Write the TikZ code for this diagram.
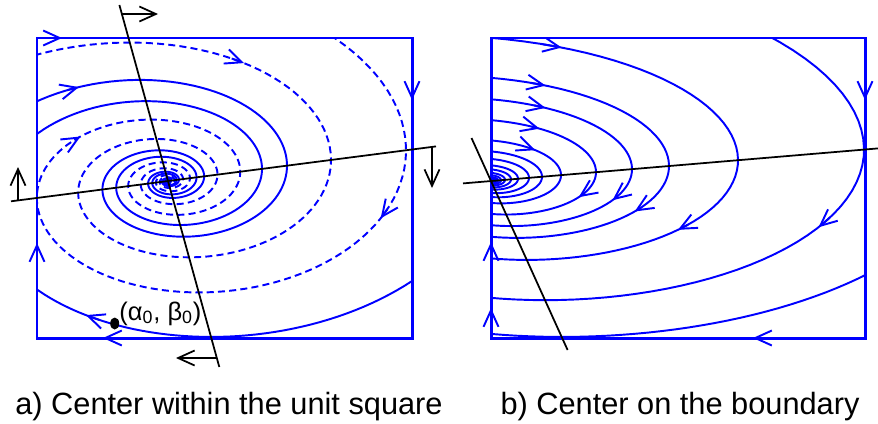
\documentclass[tikz,border=0pt]{standalone}
\usepackage{fontspec}
\setmainfont{Liberation Sans}
\usetikzlibrary{arrows.meta}

\definecolor{trajblue}{RGB}{0,0,255}

\tikzset{
  traj/.style={trajblue, line width=1.1pt},
  dtraj/.style={traj, dash pattern=on 4pt off 2.4pt},
  edge/.style={trajblue, line width=1.7pt},
  ncline/.style={black, line width=1pt},
  vtip/.style={-{Straight Barb[length=3.3mm,width=3mm]}, solid},
}

% spiral through (R, -slope*R) at angle 0
\newcommand{\spiral}[4]{%
  \draw[#1] plot[domain=#3:#4, variable=\ang]
    ({#2*exp(-\kap*(\ang))*(cos(\ang)+\kxx*sin(\ang))},
     {#2*exp(-\kap*(\ang))*(\kyy*sin(\ang)-\slp*cos(\ang))});}
\newcommand{\spiraltip}[2]{%
  \draw[traj, vtip] plot[domain=#2-4:#2, samples=2, variable=\ang]
    ({#1*exp(-\kap*(\ang))*(cos(\ang)+\kxx*sin(\ang))},
     {#1*exp(-\kap*(\ang))*(\kyy*sin(\ang)-\slp*cos(\ang))});}

\begin{document}
\begin{tikzpicture}[x=0.02cm, y=-0.02cm]
    \useasboundingbox (0,0) rectangle (878,423);
    % Left panel: trajectories
    \begin{scope}
        \clip (37,38) rectangle (412,338);
        \begin{scope}[shift={(168,181)}]
            \def\kap{0.0033036}\def\kxx{0.18928}\def\kyy{0.6306}\def\slp{0.129}
            \spiral{dtraj, samples=900}{238}{-100}{2500}
            \spiral{dtraj, samples=900}{163}{-180}{2500}
            \spiral{traj, samples=900}{119}{-180}{2500}
            \spiral{traj, samples=900}{94}{-180}{2500}
            \spiral{traj, samples=80}{333}{20}{180}
            \spiraltip{163}{-57}
            \spiraltip{119}{-110}
            \spiraltip{238}{230}
            \spiraltip{238}{27}
            \spiraltip{333}{122}
        \end{scope}
    \end{scope}
    % Left panel: unit square
    \draw[edge] (37,38) rectangle (412,338);
    \draw[traj, vtip] (48,38) -- (62,38);
    \draw[traj, vtip] (412,86) -- (412,100);
    \draw[traj, vtip] (37,257) -- (37,243);
    \draw[traj, vtip] (117,338) -- (103,338);
    % Left panel: nullclines
    \coordinate (sa) at (119.4,5);
    \coordinate (sb) at (219.3,367);
    \coordinate (ha) at (11,201.3);
    \coordinate (hb) at (436,146.4);
    \draw[ncline] (sa) -- (sb);
    \draw[ncline] (ha) -- (hb);
    \draw[ncline, vtip] (122,14) -- (158,14);
    \draw[ncline, vtip] (217,358) -- (176,358);
    \draw[ncline, vtip] (18,200) -- (18,167);
    \draw[ncline, vtip] (432,147) -- (432,188);
    % Initial point
    \fill (114.7,323.5) ellipse [x radius=0.09cm, y radius=0.12cm];
    \node[anchor=base west, inner sep=0pt, font=\fontsize{14.5}{16}\selectfont] (lbl) at (119,320)
        {(α\textsubscript{0}, β\textsubscript{0})};

    % Right panel: trajectories
    \begin{scope}
        \clip (491,38) rectangle (865,338);
        \begin{scope}[shift={(491,181)}]
            \def\kap{0.0034107}\def\kxx{0.19542}\def\kyy{0.43448}\def\slp{0.0843}
            \foreach \R in {373,247,178,141,105,70,51,38,27,20,14,10,7,5,3.5,2.5}
                {\spiral{traj, samples=150}{\R}{-200}{250}}
            \spiral{traj, samples=100}{488}{0}{200}
            \spiraltip{247}{-66}
            \spiraltip{178}{-65}
            \spiraltip{141}{-61}
            \spiraltip{105}{-57}
            \spiraltip{70}{-47}
            \spiraltip{105}{34}
            \spiraltip{141}{31}
            \spiraltip{178}{37}
            \spiraltip{247}{42}
            \spiraltip{373}{29}
        \end{scope}
    \end{scope}
    % Right panel: unit square
    \draw[edge] (491,38) rectangle (865,338);
    \draw[traj, vtip] (491,256) -- (491,242);
    \draw[traj, vtip] (491,322) -- (491,308);
    \draw[traj, vtip] (865,86) -- (865,100);
    \draw[traj, vtip] (767,338) -- (753,338);
    % Right panel: nullclines
    \coordinate (rsa) at (471.5,138);
    \coordinate (rsb) at (567.6,350);
    \coordinate (rha) at (463,183.4);
    \coordinate (rhb) at (878,148.4);
    \draw[ncline] (rsa) -- (rsb);
    \draw[ncline] (rha) -- (rhb);

    % Captions
    \node[anchor=base, inner sep=0pt, font=\fontsize{17.5}{20}\selectfont] (capa) at (229,414)
        {a) Center within the unit square};
    \node[anchor=base, inner sep=0pt, font=\fontsize{17.5}{20}\selectfont] (capb) at (680,414)
        {b) Center on the boundary};
\end{tikzpicture}
\end{document}
